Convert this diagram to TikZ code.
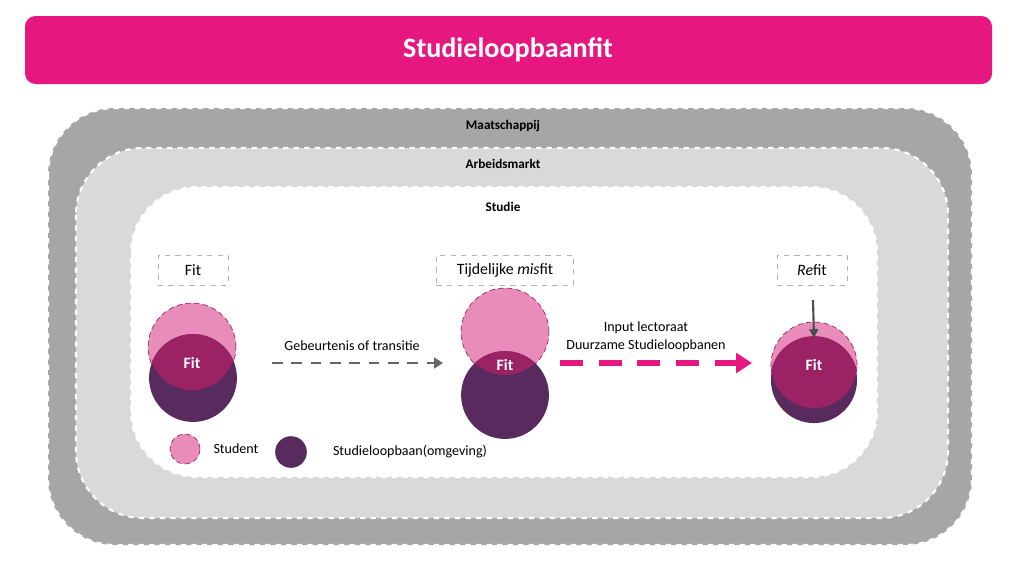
\documentclass[tikz,border=0pt]{standalone}
\usepackage{fontspec}
\setmainfont{Carlito}
\usetikzlibrary{positioning,arrows.meta}
\definecolor{titlepink}{HTML}{E6177E}
\definecolor{studpink}{HTML}{E88DBA}
\definecolor{loopdark}{HTML}{582A5E}
\definecolor{fitmag}{HTML}{9C2266}
\definecolor{bandgray}{HTML}{A6A6A6}
\definecolor{lightgray}{HTML}{D9D9D9}
\tikzset{
  band/.style={draw=white, dashed, line width=1.2pt, rounded corners=38pt},
  lbl/.style={font=\fontsize{7.5}{9}\selectfont\bfseries},
  stage/.style={draw=gray!60, dashed, minimum height=17pt, font=\fontsize{9}{11}\selectfont},
  student/.style={circle, fill=studpink, draw=fitmag, densely dashed, minimum size=#1},
  career/.style={circle, fill=loopdark, minimum size=#1},
  fittext/.style={text=white, font=\fontsize{9}{11}\selectfont\bfseries},
  small/.style={font=\fontsize{8}{10}\selectfont}
}
\begin{document}
\begin{tikzpicture}[x=0.02cm, y=-0.02cm]
  \useasboundingbox (0,0) rectangle (1024,576);
  \fill[white] (0,0) rectangle (1024,576);

  % title
  \fill[titlepink, rounded corners=6pt] (25,16) rectangle (992,84);
  \node[text=white, font=\fontsize{16}{18}\selectfont\bfseries] (title) at (508,50) {Studieloopbaanfit};

  % context layers
  \filldraw[band, fill=bandgray] (48,108) rectangle (972,545);
  \filldraw[band, fill=lightgray] (76,148) rectangle (948,518);
  \filldraw[band, fill=white, draw=lightgray] (130,186) rectangle (878,478);
  \node[lbl] (maat) at (503,126) {Maatschappij};
  \node[lbl] (arb) at (503,164) {Arbeidsmarkt};
  \node[lbl] (stud) at (503,207) {Studie};

  % stage labels
  \node[stage, minimum width=40pt] (sfit) at (193,270) {Fit};
  \node[stage, minimum width=78pt] (smis) at (505,270) {Tijdelijke \textit{mis}fit};
  \node[stage, minimum width=40pt] (sre) at (812,270) {\textit{Re}fit};

  % circles
  \node[student=50pt] (s1) at (192,347) {};
  \node[career=50pt] (c1) at (193,378) {};
  \node[student=50pt] (s2) at (505,332) {};
  \node[career=50pt] (c2) at (505,395) {};
  \node[student=49pt] (s3) at (814,365) {};
  \node[career=49pt] (c3) at (814,380) {};
  \foreach \s/\c in {s1/c1, s2/c2, s3/c3} {
    \begin{scope}
      \clip (\s.center) circle (24.5pt);
      \fill[fitmag] (\c.center) circle (25pt);
    \end{scope}
  }
  \node[fittext] (f1) at (192,363) {Fit};
  \node[fittext] (f2) at (505,365) {Fit};
  \node[fittext] (f3) at (814,365) {Fit};

  % transitions
  \coordinate (a1) at (272,363);
  \coordinate (a2) at (443,363);
  \draw[gray!120, dashed, line width=1.5pt, dash pattern=on 6pt off 5pt, -{Triangle[length=5pt,width=6pt]}] (a1) -- (a2);
  \node[small] (event) at (352,346) {Gebeurtenis of transitie};
  \coordinate (b1) at (560,363);
  \coordinate (b2) at (752,363);
  \draw[titlepink, line width=3pt, dash pattern=on 13pt off 9pt, -{Triangle[length=9pt,width=11pt]}] (b1) -- (b2);
  \node[small, align=center] (input) at (646,337) {Input lectoraat\\Duurzame Studieloopbanen};
  \coordinate (d1) at (813,300);
  \draw[gray!140, line width=1.2pt, -{Triangle[length=5pt,width=5pt]}] (d1) -- (s3.north |- 0,338);

  % legend
  \node[student=17pt] (ls) at (185,449) {};
  \node[small, right=4pt of ls] (lstext) {Student};
  \node[career=18pt] (lc) at (291,452) {};
  \node[small] (lctext) at (410,452) {Studieloopbaan(omgeving)};
\end{tikzpicture}
\end{document}
